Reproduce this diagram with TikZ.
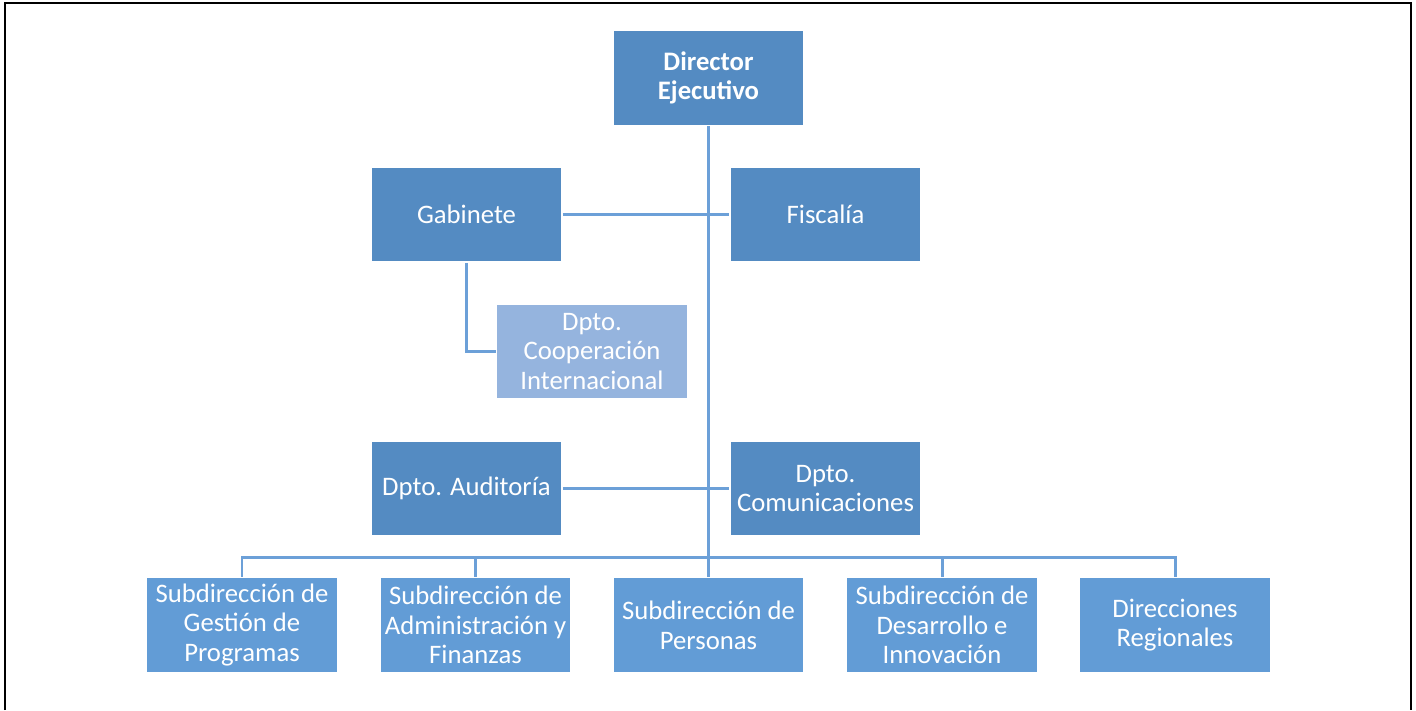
\documentclass[tikz,border=0pt]{standalone}
\usepackage{fontspec}
\setmainfont{Carlito}
\definecolor{boxdark}{RGB}{84,139,194}
\definecolor{boxmid}{RGB}{98,156,214}
\definecolor{boxlight}{RGB}{149,180,222}
\definecolor{linkblue}{RGB}{108,160,216}
\tikzset{
  unit/.style={rectangle, fill=boxdark, draw=white, line width=1pt, text=white,
    minimum width=3.82cm, minimum height=1.9cm, align=center, inner sep=1pt,
    font=\fontsize{15.2}{16.9}\selectfont},
  subunit/.style={unit, fill=boxmid},
  dept/.style={unit, fill=boxlight},
  link/.style={draw=linkblue, line width=1.7pt}
}
\begin{document}
\begin{tikzpicture}[x=0.02cm, y=-0.02cm]

    % Page size and frame (open at the bottom)
    \useasboundingbox (0,0) rectangle (1416,710);
    \draw[line width=1.2pt] (5,710) -- (5,3) -- (1411,3) -- (1411,710);

    % Top level
    \node[unit] (dir) at (708.5,78) {\textbf{Director}\\\textbf{Ejecutivo}};

    % Staff units
    \node[unit] (gab) at (466.5,214.5) {Gabinete};
    \node[unit] (fis) at (825.5,214.5) {Fiscalía};
    \node[dept] (coop) at (592,351.5) {Dpto.\\Cooperación\\Internacional};
    \node[unit] (aud) at (466.5,488.5) {Dpto. Auditoría};
    \node[unit] (com) at (825.5,488.5) {Dpto.\\Comunicaciones};

    % Subdirections
    \node[subunit] (gest) at (242,625) {Subdirección de\\Gestión de\\Programas};
    \node[subunit] (adm) at (475.5,625) {Subdirección de\\Administración y\\Finanzas};
    \node[subunit] (pers) at (708.5,625) {Subdirección de\\Personas};
    \node[subunit] (des) at (942,625) {Subdirección de\\Desarrollo e\\Innovación};
    \node[subunit] (reg) at (1175,625) {Direcciones\\Regionales};

    % Bus line above the subdirections
    \coordinate (bus) at (708.5,557);

    % Connectors
    \draw[link] (dir.south) -- (pers.north);
    \draw[link] (gab.east) -- (fis.west);
    \draw[link] (aud.east) -- (com.west);
    \draw[link] (gab.south) |- (coop.west);
    \draw[link] (gest.north) -- (gest.north |- bus) -- (reg.north |- bus) -- (reg.north);
    \foreach \n in {adm,des}
        \draw[link] (\n.north) -- (\n.north |- bus);

\end{tikzpicture}
\end{document}
